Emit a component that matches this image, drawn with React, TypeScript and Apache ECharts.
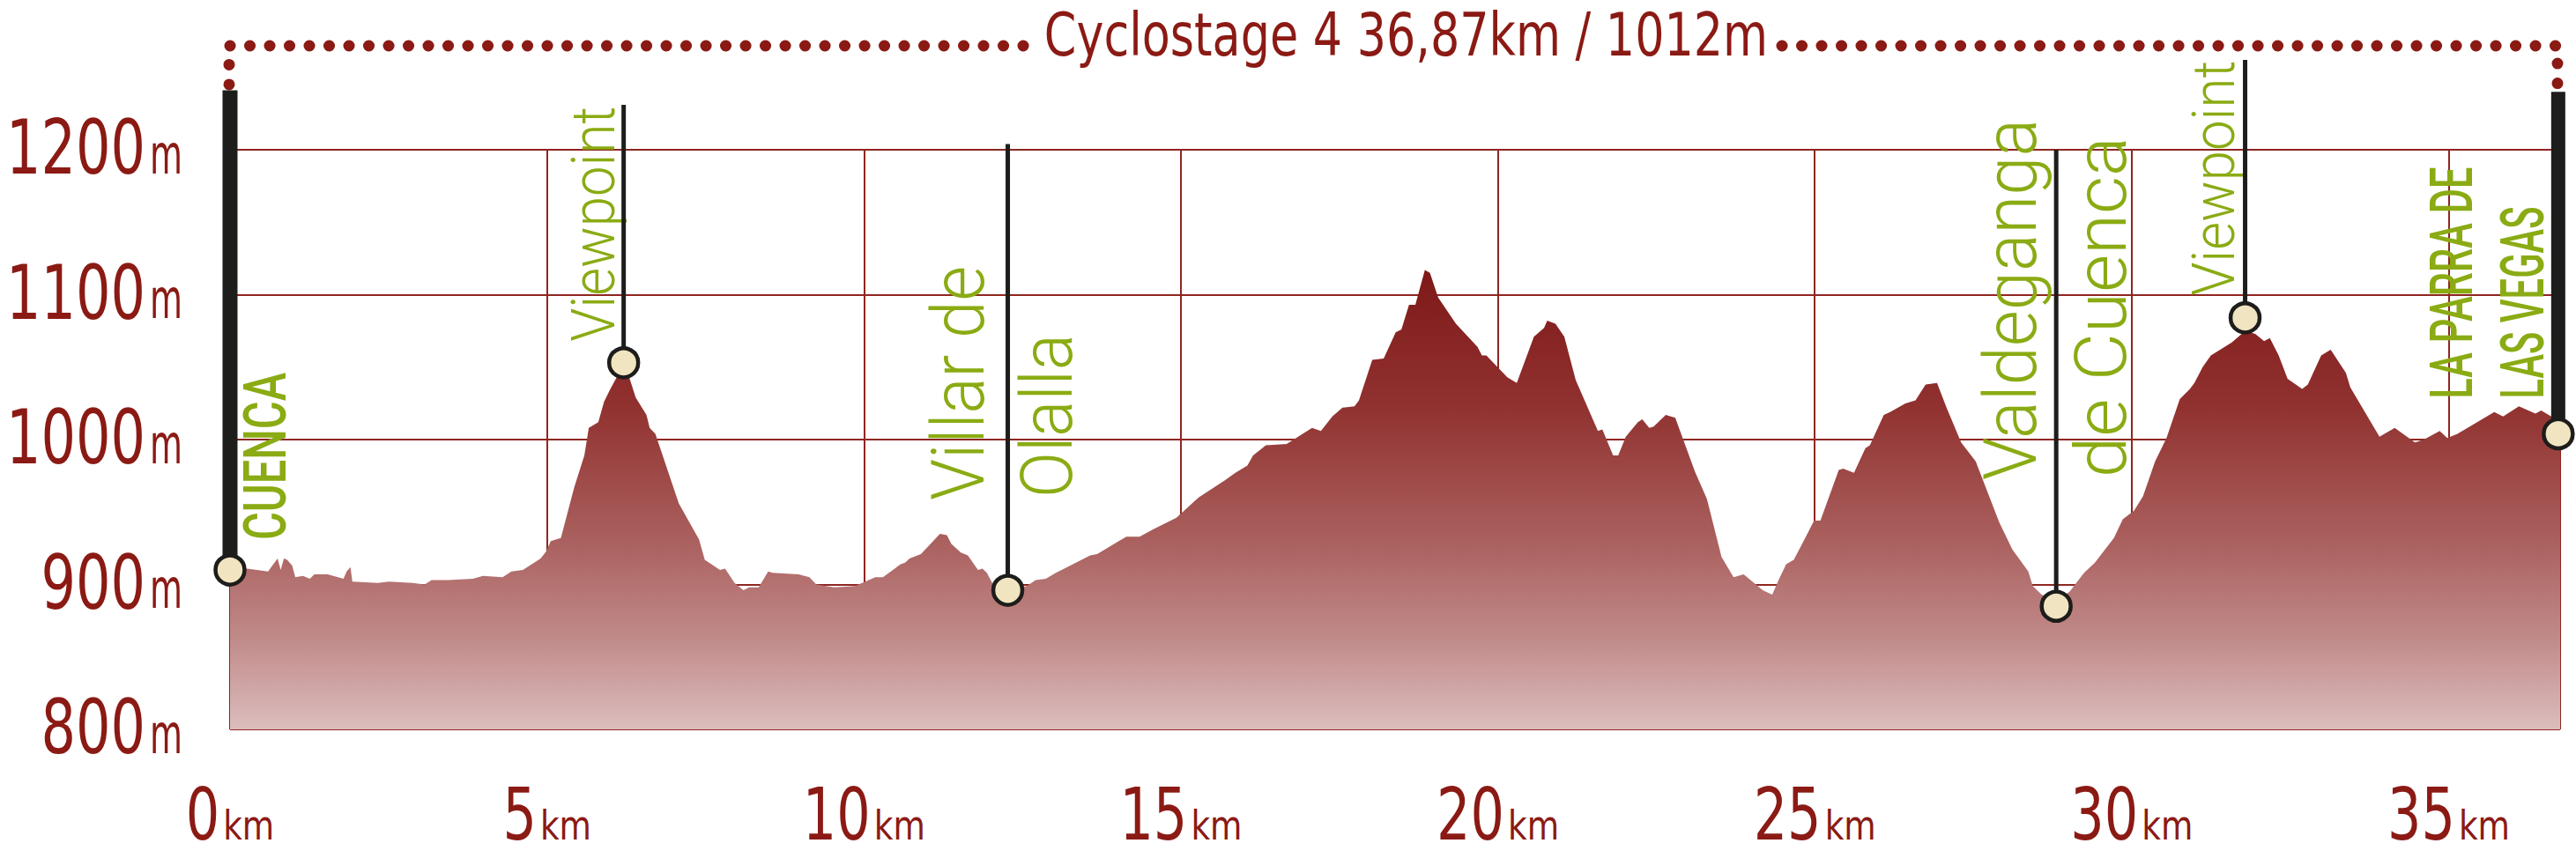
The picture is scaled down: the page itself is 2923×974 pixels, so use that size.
import React, { useEffect, useRef } from 'react';
import * as echarts from 'echarts';

// ---------------- data ----------------
const TITLE = 'Cyclostage 4 36,87km / 1012m';
const X_UNIT = 'km';
const Y_UNIT = 'm';
const X_MAX_KM = 36.76;
const Y_MIN_M = 800;
const Y_MAX_M = 1200;
const X_TICKS = [0, 5, 10, 15, 20, 25, 30, 35];
const Y_TICKS = [800, 900, 1000, 1100, 1200];

const DISTANCE_KM = [
  0.0, 0.27, 0.6, 0.75, 0.8, 0.85, 0.9, 0.98, 1.03, 1.15, 1.26, 1.33, 1.54, 1.79, 1.84, 1.9, 1.93, 2.33, 2.51, 2.88,
  3.07, 3.18, 3.44, 3.83, 3.99, 4.3, 4.44, 4.62, 4.69, 4.9, 4.99, 5.06, 5.22, 5.43, 5.59, 5.66, 5.81, 5.9, 5.99, 6.1,
  6.2, 6.29, 6.4, 6.57, 6.62, 6.71, 7.08, 7.4, 7.49, 7.73, 7.81, 7.96, 8.1, 8.19, 8.34, 8.49, 8.56, 8.97, 9.14, 9.25,
  9.53, 9.86, 10.02, 10.18, 10.3, 10.58, 10.65, 10.72, 10.9, 11.2, 11.31, 11.38, 11.53, 11.64, 11.8, 11.87, 11.94, 12.06, 12.27, 12.57,
  12.71, 12.87, 13.03, 13.57, 13.68, 14.14, 14.35, 14.56, 14.93, 15.28, 15.7, 15.86, 16.05, 16.14, 16.34, 16.67, 17.07, 17.21, 17.39, 17.55,
  17.74, 17.81, 18.02, 18.2, 18.39, 18.48, 18.6, 18.7, 18.85, 18.93, 19.06, 19.34, 19.68, 19.75, 19.82, 20.15, 20.3, 20.57, 20.73, 20.78,
  20.91, 21.05, 21.23, 21.58, 21.65, 21.82, 21.9, 22.02, 22.21, 22.28, 22.39, 22.46, 22.65, 22.8, 23.11, 23.3, 23.53, 23.72, 23.88, 24.18,
  24.33, 24.43, 24.55, 24.67, 24.85, 24.99, 25.09, 25.38, 25.45, 25.62, 25.8, 25.87, 26.09, 26.19, 26.43, 26.59, 26.75, 26.93, 27.08, 27.31,
  27.54, 27.91, 28.12, 28.37, 28.44, 28.58, 28.7, 28.81, 28.92, 29.02, 29.25, 29.42, 29.72, 29.86, 30.04, 30.18, 30.37, 30.55, 30.76, 30.92,
  30.99, 31.12, 31.25, 31.58, 31.79, 31.95, 32.09, 32.18, 32.32, 32.46, 32.69, 32.78, 32.99, 33.14, 33.38, 33.45, 33.91, 34.15, 34.47, 34.61,
  34.86, 34.98, 35.14, 35.72, 35.86, 36.11, 36.37, 36.46, 36.62, 36.76,
];

const ELEVATION_M = [
  911, 911, 909, 918, 910, 918, 917, 913, 905, 906, 904, 907, 907, 904, 909, 912, 902, 901, 902, 901,
  900, 903, 903, 904, 906, 905, 909, 910, 912, 918, 923, 930, 932, 967, 989, 1008, 1012, 1026, 1034, 1043,
  1049, 1044, 1029, 1017, 1008, 1004, 956, 931, 917, 910, 911, 901, 896, 898, 898, 909, 908, 907, 905, 900,
  898, 899, 902, 905, 905, 914, 915, 918, 921, 935, 934, 928, 922, 920, 910, 911, 908, 898, 896, 899,
  903, 904, 908, 920, 921, 933, 933, 938, 946, 960, 972, 977, 982, 989, 996, 997, 1008, 1006, 1016, 1022,
  1023, 1027, 1055, 1056, 1074, 1076, 1093, 1093, 1117, 1115, 1098, 1080, 1064, 1058, 1058, 1043, 1039, 1071, 1077, 1082,
  1080, 1071, 1041, 1006, 1007, 989, 989, 1002, 1012, 1014, 1008, 1009, 1017, 1015, 978, 959, 919, 905, 907, 896,
  893, 903, 914, 917, 932, 944, 944, 979, 980, 977, 994, 996, 1017, 1019, 1025, 1027, 1038, 1039, 1022, 998,
  985, 943, 924, 909, 899, 893, 891, 889, 892, 895, 908, 915, 932, 945, 951, 961, 985, 1001, 1028, 1035,
  1039, 1050, 1058, 1067, 1075, 1073, 1068, 1070, 1058, 1042, 1035, 1038, 1058, 1062, 1046, 1036, 1002, 1008, 998, 1000,
  1006, 1001, 1004, 1019, 1016, 1023, 1018, 1020, 1016, 1005,
];

const MARKER_LABELS = [
  ['CUENCA'],
  ['Viewpoint'],
  ['Villar de', 'Olalla'],
  ['Valdeganga', 'de Cuenca'],
  ['Viewpoint'],
  ['LA PARRA DE', 'LAS VEGAS'],
];
const MARKER_KM = [0, 6.21, 12.27, 28.81, 31.79, 36.73];
const MARKER_ELEV_M = [910, 1053, 896, 885, 1084, 1004];
const MARKER_POLE_TOP_M = [1241, 1231, 1204, 1200, 1262, 1240];

// ---------------- styles ----------------
const RED = '#8b1a14';
const GRID_RED = '#8f2621';
const GREEN = '#8aab13';
const POLE = '#1d1d1b';
const CREAM = '#f1e4c1';
const NARROW = '"DejaVu Sans Condensed", "Liberation Sans", sans-serif';
const CENTRAL = 0.346; // distance from alphabetic baseline to text centre, in em
const THIN = 'Roboto, "Open Sans", sans-serif';

// per marker label layout (pixel offsets relative to the marker point)
const MARKER_STYLE = [
  { bold: true, pole: 17, lines: [{ dx: 40.5, dy: -34, cap: 47, len: 190 }] },
  { bold: false, pole: 5, lines: [{ dx: -34.5, dy: -24, cap: 49, len: 267 }] },
  { bold: false, pole: 5, lines: [{ dx: -56, dy: -102, cap: 59, len: 266 }, { dx: 45, dy: -105, cap: 58, len: 186 }] },
  { bold: false, pole: 5, lines: [{ dx: -51, dy: -143, cap: 59, len: 410 }, { dx: 51, dy: -146, cap: 58, len: 387 }] },
  { bold: false, pole: 5, lines: [{ dx: -35.7, dy: -25, cap: 48, len: 267 }] },
  { bold: true, pole: 16, lines: [{ dx: -121, dy: -40, cap: 48, len: 263 }, { dx: -40.5, dy: -40, cap: 49, len: 218 }] },
];

let measureCtx: CanvasRenderingContext2D | null = null;
function measure(text: string, font: string): number {
  if (!measureCtx) measureCtx = document.createElement('canvas').getContext('2d');
  measureCtx!.font = font;
  return measureCtx!.measureText(text).width;
}

function txt(text: string, x: number, y: number, fs: number, family: string, fill: string, align: string, scaleX: number, weight = 'normal', rotation = 0) {
  return {
    type: 'text',
    x,
    y,
    rotation,
    scaleX,
    style: {
      text,
      fontSize: fs,
      fontFamily: family,
      fontWeight: weight,
      fill,
      align,
      verticalAlign: 'middle',
      lineHeight: Math.round(fs * 0.9),
    },
  };
}

export default function App() {
  const ref = useRef<HTMLDivElement>(null);

  useEffect(() => {
    if (!ref.current) return;
    const chart = echarts.init(ref.current, undefined, { renderer: 'svg' });

    const profile = DISTANCE_KM.map((d, i) => [d, ELEVATION_M[i]]);
    const markers = MARKER_KM.map((d, i) => [d, MARKER_ELEV_M[i]]);

    const titleSize = 67;
    const titleScale = 821 / measure(TITLE, `${titleSize}px ${NARROW}`);

    // axis label typography
    const yNumFs = 85;
    const yNumScale = 39.5 / measure('0', `${yNumFs}px ${NARROW}`);
    const yUnitFs = 62;
    const yUnitScale = 37 / measure(Y_UNIT, `${yUnitFs}px ${NARROW}`);
    const xNumFs = 82;
    const xNumScale = 38.5 / measure('0', `${xNumFs}px ${NARROW}`);
    const xUnitFs = 47;
    const xUnitScale = 58 / measure(X_UNIT, `${xUnitFs}px ${NARROW}`);

    const option: any = {
      animation: false,
      backgroundColor: '#ffffff',
      grid: { left: 261, right: 18, top: 170, bottom: 146, containLabel: false, outerBoundsMode: 'none' },
      xAxis: {
        type: 'value',
        min: 0,
        max: X_MAX_KM,
        interval: 5,
        axisLine: { show: false },
        axisTick: { show: false },
        axisLabel: { show: false },
        splitLine: { show: true, lineStyle: { color: GRID_RED, width: 2 } },
      },
      yAxis: {
        type: 'value',
        min: Y_MIN_M,
        max: Y_MAX_M,
        interval: 100,
        axisLine: { show: false },
        axisTick: { show: false },
        axisLabel: { show: false },
        splitLine: { show: true, lineStyle: { color: GRID_RED, width: 2 } },
      },
      graphic: [
        {
          type: 'polyline',
          shape: { points: [[260, 96], [260, 52], [1172, 52]] },
          style: { fill: 'none', stroke: RED, lineWidth: 13, lineDash: [0.1, 22.4], lineCap: 'round' },
        },
        {
          type: 'polyline',
          shape: { points: [[2022, 52], [2902, 52], [2902, 97]] },
          style: { fill: 'none', stroke: RED, lineWidth: 13, lineDash: [0.1, 22.4], lineCap: 'round' },
        },
        {
          type: 'text',
          x: 1595.5,
          y: 40,
          scaleX: titleScale,
          style: {
            text: TITLE,
            fontSize: titleSize,
            fontFamily: NARROW,
            fill: RED,
            align: 'center',
            verticalAlign: 'middle',
            lineHeight: 60,
          },
        },
      ],
      series: [
        {
          type: 'line',
          data: profile,
          showSymbol: false,
          symbol: 'none',
          lineStyle: { width: 0, opacity: 0 },
          areaStyle: {
            origin: 'start',
            opacity: 1,
            color: new echarts.graphic.LinearGradient(0, 0, 0, 1, [
              { offset: 0, color: '#7e1918' },
              { offset: 0.3, color: '#913230' },
              { offset: 0.6, color: '#ab6260' },
              { offset: 0.8, color: '#c08a89' },
              { offset: 1, color: '#dcbdbd' },
            ]),
          },
          z: 2,
        },
        // y axis tick labels (e.g. 1200m)
        {
          type: 'custom',
          data: Y_TICKS.map((v) => [0, v]),
          clip: false,
          silent: true,
          z: 4,
          renderItem: (params: any, api: any) => {
            const v = Y_TICKS[params.dataIndex];
            const [ax, ty] = api.coord([0, v]);
            const baseline = ty + 27;
            return {
              type: 'group',
              children: [
                txt(String(v), ax - 96, baseline - CENTRAL * yNumFs, yNumFs, NARROW, RED, 'right', yNumScale),
                txt(Y_UNIT, ax - 54, baseline - CENTRAL * yUnitFs, yUnitFs, NARROW, RED, 'right', yUnitScale),
              ],
            };
          },
        },
        // x axis tick labels (e.g. 15km)
        {
          type: 'custom',
          data: X_TICKS.map((v) => [v, Y_MIN_M]),
          clip: false,
          silent: true,
          z: 4,
          renderItem: (params: any, api: any) => {
            const v = X_TICKS[params.dataIndex];
            const [tx, by] = api.coord([v, Y_MIN_M]);
            const baseline = by + 125;
            const wn = measure(String(v), `${xNumFs}px ${NARROW}`) * xNumScale;
            const wu = measure(X_UNIT, `${xUnitFs}px ${NARROW}`) * xUnitScale;
            const gap = 4;
            const left = tx - (wn + gap + wu) / 2;
            return {
              type: 'group',
              children: [
                txt(String(v), left, baseline - CENTRAL * xNumFs, xNumFs, NARROW, RED, 'left', xNumScale),
                txt(X_UNIT, left + wn + gap, baseline - CENTRAL * xUnitFs, xUnitFs, NARROW, RED, 'left', xUnitScale),
              ],
            };
          },
        },
        // waypoints: pole, circle and vertical names
        {
          type: 'custom',
          data: markers,
          clip: false,
          z: 5,
          renderItem: (params: any, api: any) => {
            const i = params.dataIndex;
            const [x, y] = api.coord([MARKER_KM[i], MARKER_ELEV_M[i]]);
            const [, yTop] = api.coord([MARKER_KM[i], MARKER_POLE_TOP_M[i]]);
            const st = MARKER_STYLE[i];
            const children: any[] = [];
            MARKER_LABELS[i].forEach((label, j) => {
              const l = st.lines[j];
              const family = THIN;
              const weight = st.bold ? '500' : '300';
              const fs = l.cap / 0.711;
              const w = measure(label, `${weight} ${fs}px ${family}`);
              children.push(txt(label, x + l.dx, y + l.dy, fs, family, GREEN, 'left', l.len / w, weight, Math.PI / 2));
            });
            children.push({
              type: 'line',
              shape: { x1: x, y1: yTop, x2: x, y2: y },
              style: { stroke: POLE, lineWidth: st.pole, lineCap: 'butt' },
            });
            children.push({
              type: 'circle',
              shape: { cx: x, cy: y, r: 16.5 },
              style: { fill: CREAM, stroke: POLE, lineWidth: 4.5 },
            });
            return { type: 'group', children };
          },
        },
      ],
    };

    chart.setOption(option);
    return () => chart.dispose();
  }, []);

  return (
    <div
      ref={ref}
      style={{ position: 'absolute', left: 0, top: 0, width: 2923, height: 974, background: '#fff' }}
    />
  );
}
